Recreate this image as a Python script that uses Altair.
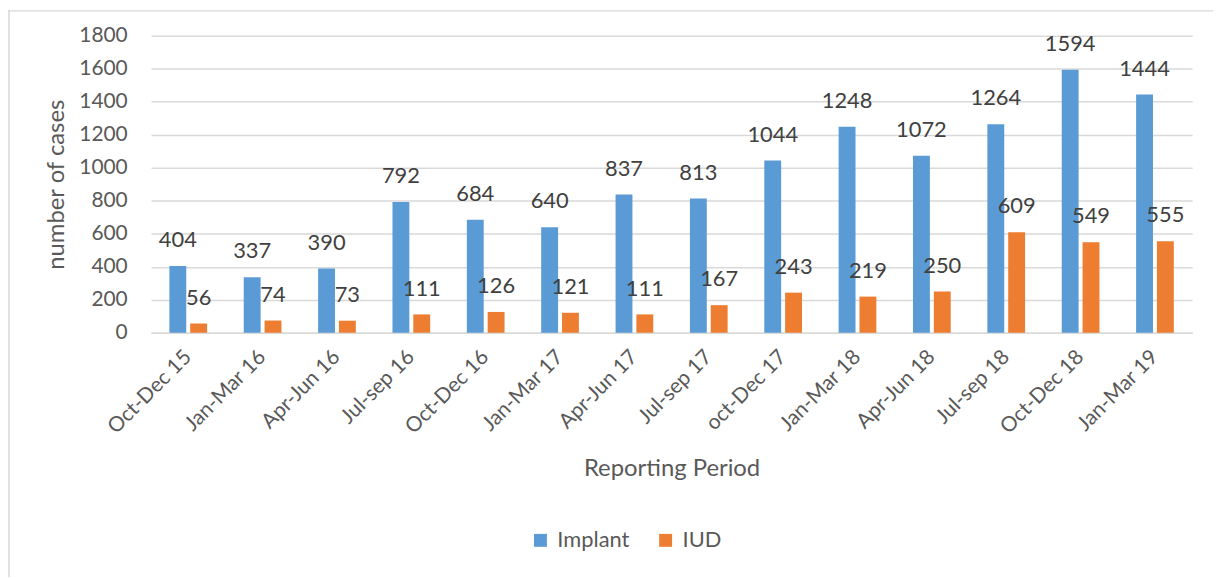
import altair as alt
import pandas as pd

periods = ["Oct-Dec 15", "Jan-Mar 16", "Apr-Jun 16", "Jul-sep 16", "Oct-Dec 16",
           "Jan-Mar 17", "Apr-Jun 17", "Jul-sep 17", "oct-Dec 17", "Jan-Mar 18",
           "Apr-Jun 18", "Jul-sep 18", "Oct-Dec 18", "Jan-Mar 19"]
implant = [404, 337, 390, 792, 684, 640, 837, 813, 1044, 1248, 1072, 1264, 1594, 1444]
iud = [56, 74, 73, 111, 126, 121, 111, 167, 243, 219, 250, 609, 549, 555]
series = ["Implant", "IUD"]
colors = ["#5B9BD5", "#ED7D31"]
y_ticks = [0, 200, 400, 600, 800, 1000, 1200, 1400, 1600, 1800]

rows = []
for i, p in enumerate(periods):
    rows.append({"period": p, "series": "Implant", "value": implant[i]})
    rows.append({"period": p, "series": "IUD", "value": iud[i]})
df = pd.DataFrame(rows)

FONT = "Lato"
GRID = "#D9D9D9"
TXT = "#595959"

W, H = 1048, 299

x_enc = alt.X(
    "period:N", sort=periods,
    scale=alt.Scale(paddingInner=0, paddingOuter=0),
    axis=alt.Axis(
        title="Reporting Period", labelAngle=-45, labelAlign="right",
        labelBaseline="middle", labelPadding=21, ticks=False, labelOverlap=False,
        domainColor=GRID, domainWidth=1.5, labelFont=FONT, labelFontSize=21,
        labelColor=TXT, titleFont=FONT, titleFontSize=24, titleFontWeight="normal",
        titleColor=TXT, titleX=W / 2, titleY=137, titleBaseline="middle",
        titleAlign="center",
    ),
)
xoff_enc = alt.XOffset(
    "series:N", sort=series,
    scale=alt.Scale(paddingInner=0.19, paddingOuter=0.88),
)
y_enc = alt.Y(
    "value:Q",
    scale=alt.Scale(domain=[0, 1800], nice=False),
    axis=alt.Axis(
        title="number of cases", values=y_ticks, format="d", labelOverlap=False,
        labelFlush=False, labelBound=False,
        grid=True, gridColor=GRID,
        gridWidth=1.5, domain=False, ticks=False, labelPadding=24,
        labelFont=FONT, labelFontSize=21, labelColor=TXT,
        titleFont=FONT, titleFontSize=24, titleFontWeight="normal",
        titleColor=TXT, titleX=-95, titleY=H / 2, titleAngle=-90,
        titleAlign="center", titleBaseline="middle",
    ),
)

bars = alt.Chart(df).mark_bar().encode(
    x=x_enc,
    xOffset=xoff_enc,
    y=y_enc,
    color=alt.Color(
        "series:N", sort=series,
        scale=alt.Scale(domain=series, range=colors),
        legend=alt.Legend(
            title=None, orient="none", direction="horizontal",
            legendX=381, legendY=497, symbolType="square", symbolSize=169,
            symbolStrokeWidth=0, labelFont=FONT, labelFontSize=22,
            labelColor=TXT, labelOffset=6, columnPadding=25,
        ),
    ),
)

labels = alt.Chart(df).mark_text(
    dy=-26, baseline="middle", align="center", font=FONT, fontSize=22,
    color="#404040",
).encode(
    x=x_enc,
    xOffset=xoff_enc,
    y=y_enc,
    text=alt.Text("value:Q"),
)

frame_df = pd.DataFrame({"k": [0]})
top_border = alt.Chart(frame_df).mark_rule(color=GRID, strokeWidth=1.5).encode(
    x=alt.value(-144), x2=alt.value(1069), y=alt.value(-25)
)
left_border = alt.Chart(frame_df).mark_rule(color=GRID, strokeWidth=1.5).encode(
    x=alt.value(-143), y=alt.value(-26), y2=alt.value(545)
)

chart = alt.layer(top_border, left_border, bars, labels).properties(
    width=W, height=H,
    padding={"left": 144, "top": 26, "right": 21, "bottom": 245},
    autosize=alt.AutoSizeParams(type="none"),
).configure_view(stroke=None)

chart.save("out.html", embed_options={"renderer": "svg", "actions": False})
